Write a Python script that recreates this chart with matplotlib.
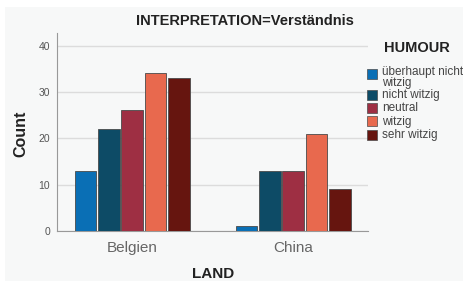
import matplotlib
matplotlib.use("Agg")
import matplotlib.pyplot as plt
import numpy as np
from matplotlib.patches import Rectangle

plt.rcParams['font.family'] = ['Liberation Sans', 'DejaVu Sans']

countries = ["Belgien", "China"]
humour = ["überhaupt nicht\nwitzig", "nicht witzig", "neutral", "witzig", "sehr witzig"]
values = {
    "überhaupt nicht\nwitzig": [13, 1],
    "nicht witzig": [22, 13],
    "neutral": [26, 13],
    "witzig": [34, 21],
    "sehr witzig": [33, 9],
}
colors = ["#0a6fb5", "#0d4b66", "#9e2f43", "#e8694e", "#66150f"]
yticks = [0, 10, 20, 30, 40]

W, H = 464, 281
fig = plt.figure(figsize=(W / 100, H / 100), dpi=100, facecolor="white")
fig.patches.append(Rectangle((5 / W, 0), 1, 1 - 7 / H, transform=fig.transFigure,
                             facecolor="#f7f8f8", edgecolor="none", zorder=-10))
ax = fig.add_axes([57 / W, 1 - 231 / H, 311 / W, 198 / H])
ax.set_facecolor("none")

x = np.arange(len(countries))
slot = 0.145
bw = 0.135
for i, (lab, col) in enumerate(zip(humour, colors)):
    ax.bar(x + (i - 2) * slot, values[lab], width=bw, color=col,
           edgecolor="#4a4a4a", linewidth=0.6, label=lab, zorder=3)

ax.set_xlim(-0.468, 1.465)
ax.set_ylim(0, 42.7)
ax.set_yticks(yticks)
ax.set_yticklabels([str(v) for v in yticks], color="#555555", fontsize=7.5)
ax.set_xticks(x)
ax.set_xticklabels(countries, color="#666666", fontsize=11)
ax.tick_params(axis="y", length=0, pad=5)
ax.tick_params(axis="x", length=0, pad=7)
ax.yaxis.grid(True, color="#dcdcdc", linewidth=1, zorder=0)
for s in ["top", "right"]:
    ax.spines[s].set_visible(False)
ax.spines["left"].set_color("#999999")
ax.spines["bottom"].set_color("#999999")


def fx(px):
    return px / W


def fy(py):
    return 1 - py / H


fig.text(fx(21), fy(134), "Count", rotation=90, ha="center", va="center",
         fontsize=11.5, fontweight="bold", color="#222222")
fig.text(fx(213), fy(274), "LAND", ha="center", va="center",
         fontsize=11, fontweight="bold", color="#222222")
fig.text(fx(245), fy(21), "INTERPRETATION=Verständnis", ha="center", va="center",
         fontsize=10.5, fontweight="bold", color="#222222")

# legend drawn in figure pixel coordinates
fig.text(fx(417), fy(48), "HUMOUR", ha="center", va="center",
         fontsize=10.5, fontweight="bold", color="#222222")
row_centers = [73.5, 95, 108, 121.5, 135]
for lab, col, cy in zip(humour, colors, row_centers):
    fig.patches.append(Rectangle((fx(367), fy(cy + 5)), 10 / W, 10 / H,
                                 transform=fig.transFigure, facecolor=col,
                                 edgecolor="#4a4a4a", linewidth=0.5))
    if "\n" in lab:
        fig.text(fx(382), fy(66), lab, ha="left", va="top", fontsize=8.5,
                 color="#444444", linespacing=0.9)
    else:
        fig.text(fx(382), fy(cy), lab, ha="left", va="center", fontsize=8.5,
                 color="#444444")

fig.savefig("out.png", dpi=100, facecolor=fig.get_facecolor())
